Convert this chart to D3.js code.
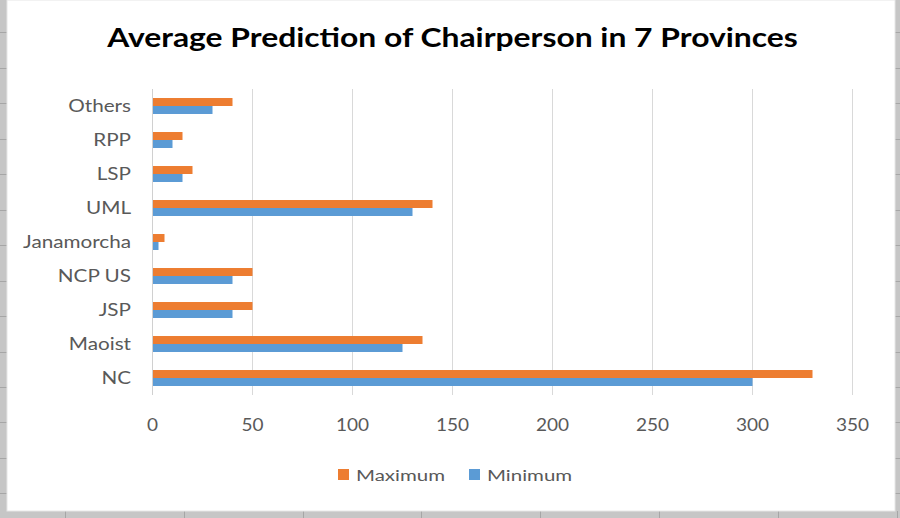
<!DOCTYPE html>
<html>
<head>
<meta charset="utf-8">
<script src="https://cdn.jsdelivr.net/npm/d3@7"></script>
<style>
  html, body { margin: 0; padding: 0; background: #c6c6c6; }
  svg { display: block; }
  text { font-family: Lato, "Open Sans", sans-serif; }
</style>
</head>
<body>
<script>
// ---- data ----
const categories = ["NC", "Maoist", "JSP", "NCP US", "Janamorcha", "UML", "LSP", "RPP", "Others"];
const maximumValues = [330, 135, 50, 50, 6, 140, 20, 15, 40];
const minimumValues = [300, 125, 40, 40, 3, 130, 15, 10, 30];
const seriesNames = ["Maximum", "Minimum"];
const seriesColors = ["#ED7D31", "#5B9BD5"];
const xTicks = [0, 50, 100, 150, 200, 250, 300, 350];
const titleText = "Average Prediction of Chairperson in 7 Provinces";

const W = 900, H = 518;
const svg = d3.select("body").append("svg").attr("width", W).attr("height", H);

// spreadsheet background
svg.append("rect").attr("x", 0).attr("y", 0).attr("width", W).attr("height", H).attr("fill", "#c6c6c6");
const rowLines = d3.range(-3, H, 35.45);
svg.append("g").selectAll("line.l").data(rowLines).join("line")
  .attr("x1", 0).attr("x2", 7).attr("y1", d => Math.round(d) + 0.5).attr("y2", d => Math.round(d) + 0.5)
  .attr("stroke", "#a6a6a6");
svg.append("g").selectAll("line.r").data(rowLines).join("line")
  .attr("x1", 895).attr("x2", 900).attr("y1", d => Math.round(d) + 0.5).attr("y2", d => Math.round(d) + 0.5)
  .attr("stroke", "#a6a6a6");
const colLines = d3.range(65, W, 118.8);
svg.append("g").selectAll("line").data(colLines).join("line")
  .attr("x1", d => Math.round(d) + 0.5).attr("x2", d => Math.round(d) + 0.5).attr("y1", 511).attr("y2", H)
  .attr("stroke", "#a6a6a6");

// chart area
svg.append("rect").attr("x", 7).attr("y", 0).attr("width", 888).attr("height", 511)
  .attr("fill", "#ffffff").attr("stroke", "#e6e6e6");

// scales
const x = d3.scaleLinear().domain([0, 350]).range([152, 852]);
const y0 = d3.scaleBand().domain(categories.slice().reverse()).range([89, 395])
  .paddingInner(0.53).paddingOuter(0.265);
const y1 = d3.scaleBand().domain(seriesNames).range([0, y0.bandwidth()]);

// gridlines
svg.append("g").selectAll("line").data(xTicks).join("line")
  .attr("x1", d => Math.round(x(d)) + 0.5).attr("x2", d => Math.round(x(d)) + 0.5)
  .attr("y1", 89).attr("y2", 395)
  .attr("stroke", "#d9d9d9").attr("stroke-width", 1);

// bars
const rows = categories.map((c, i) => ({ cat: c, vals: [maximumValues[i], minimumValues[i]] }));
const grp = svg.append("g").selectAll("g").data(rows).join("g")
  .attr("transform", d => `translate(0,${y0(d.cat)})`);
grp.selectAll("rect").data(d => d.vals.map((v, j) => ({ s: seriesNames[j], v, c: seriesColors[j] })))
  .join("rect")
  .attr("x", x(0) + 0.5)
  .attr("y", d => y1(d.s))
  .attr("width", d => x(d.v) - x(0))
  .attr("height", y1.bandwidth())
  .attr("fill", d => d.c);

// vertical axis line
svg.append("line").attr("x1", x(0) + 0.5).attr("x2", x(0) + 0.5).attr("y1", 89).attr("y2", 395)
  .attr("stroke", "#d0d0d0");

// helper: horizontal stretch text to match reference glyph widths
function stretch(sel, sx) {
  sel.each(function () {
    const t = d3.select(this);
    const tx = +t.attr("data-x"), ty = +t.attr("data-y");
    t.attr("transform", `translate(${tx},${ty}) scale(${sx},1)`);
  });
}

// category labels (via axis)
const yAxis = d3.axisLeft(y0).tickSize(0).tickPadding(0);
const yAxisG = svg.append("g").attr("transform", "translate(131,0)").call(yAxis);
yAxisG.select(".domain").remove();
yAxisG.selectAll("text").attr("fill", "#595959").attr("font-size", 17).attr("dy", "0.36em")
  .style("font-family", "Lato, 'Open Sans', sans-serif");

// x tick labels
const xAxis = d3.axisBottom(x).tickValues(xTicks).tickSize(0).tickPadding(0).tickFormat(d3.format("d"));
const xAxisG = svg.append("g").attr("transform", "translate(0,419)").call(xAxis);
xAxisG.select(".domain").remove();
xAxisG.selectAll("text").attr("fill", "#595959").attr("font-size", 17).attr("dy", "0.71em")
  .style("font-family", "Lato, 'Open Sans', sans-serif");

// stretch label groups horizontally (measure Janamorcha target width ~108)
(function () {
  const labs = yAxisG.selectAll("text");
  let w = 0;
  labs.each(function (d) { if (d === "Janamorcha") w = this.getComputedTextLength(); });
  const sx = w > 0 ? 108 / w : 1;
  labs.attr("transform", null);
  yAxisG.selectAll(".tick").each(function () {
    d3.select(this).select("text").attr("transform", `scale(${sx},1)`);
  });
  xAxisG.selectAll(".tick text").attr("transform", `scale(${Math.min(sx, 1.12)},1)`);
})();

// title
const title = svg.append("text").text(titleText)
  .attr("text-anchor", "middle").attr("font-size", 26).attr("font-weight", 700).attr("fill", "#000");
(function () {
  const w = title.node().getComputedTextLength();
  const sx = 691 / w;
  title.attr("transform", `translate(452.5,47) scale(${sx},1)`);
})();

// legend
const legend = svg.append("g");
const legItems = [{ name: seriesNames[0], color: seriesColors[0], x: 338 }, { name: seriesNames[1], color: seriesColors[1], x: 469 }];
const lg = legend.selectAll("g").data(legItems).join("g").attr("transform", d => `translate(${d.x},0)`);
lg.append("rect").attr("x", 0).attr("y", 469).attr("width", 11).attr("height", 11).attr("fill", d => d.color);
const legTexts = lg.append("text").text(d => d.name).attr("font-size", 16).attr("fill", "#595959");
(function () {
  let w = 0;
  legTexts.each(function (d) { if (d.name === "Maximum") w = this.getComputedTextLength(); });
  const sx = w > 0 ? 89 / w : 1;
  legTexts.attr("transform", `translate(18,481) scale(${sx},1)`);
})();
</script>
</body>
</html>
